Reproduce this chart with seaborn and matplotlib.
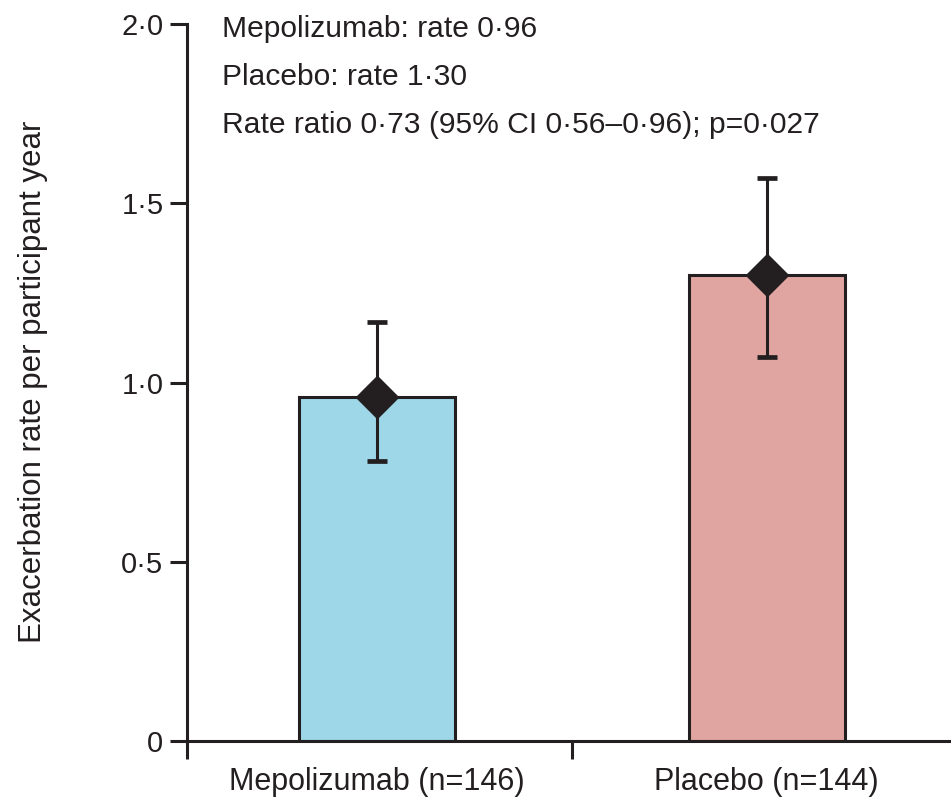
import matplotlib
matplotlib.use("Agg")
import matplotlib.pyplot as plt
import seaborn as sns
import pandas as pd

# Data
groups = ["Mepolizumab (n=146)", "Placebo (n=144)"]
rates = [0.96, 1.30]
ci_lower = [0.78, 1.07]
ci_upper = [1.17, 1.57]
bar_colors = ["#9dd7e8", "#e0a5a1"]
y_ticks = [0, 0.5, 1.0, 1.5, 2.0]
y_tick_labels = ["0", "0·5", "1·0", "1·5", "2·0"]
annotation_lines = [
    "Mepolizumab: rate 0·96",
    "Placebo: rate 1·30",
    "Rate ratio 0·73 (95% CI 0·56\u20130·96); p=0·027",
]

ink = "#231f20"

sns.set_theme(style="ticks")
plt.rcParams["font.family"] = ["Liberation Sans", "DejaVu Sans"]
plt.rcParams["text.color"] = ink
plt.rcParams["axes.labelcolor"] = ink
plt.rcParams["xtick.color"] = ink
plt.rcParams["ytick.color"] = ink

df = pd.DataFrame({"group": groups, "rate": rates})

W, H = 951, 801
fig = plt.figure(figsize=(W / 100, H / 100), dpi=100)
ax = fig.add_axes([187 / W, 60 / H, 764 / W, 717 / H])

sns.barplot(data=df, x="group", y="rate", hue="group", palette=bar_colors,
            saturation=1, width=0.40, edgecolor=ink, linewidth=2.2,
            legend=False, ax=ax, errorbar=None)

xs = list(range(len(groups)))
yerr = [[r - lo for r, lo in zip(rates, ci_lower)],
        [hi - r for r, hi in zip(rates, ci_upper)]]
ax.errorbar(xs, rates, yerr=yerr, fmt="none", ecolor=ink, elinewidth=2.2,
            capsize=7, capthick=3.4, zorder=4)
ax.plot(xs, rates, linestyle="none", marker="D", markersize=21,
        color=ink, zorder=5)

ax.set_xlim(-0.486, 1.473)
ax.set_ylim(0, 2.0)
ax.set_yticks(y_ticks)
ax.set_yticklabels(y_tick_labels)
ax.set_xticks(xs)
ax.set_xticklabels(groups)
ax.set_xticks([-0.486, 0.5], minor=True)
ax.tick_params(axis="x", which="major", length=0, pad=19, labelsize=22)
ax.tick_params(axis="x", which="minor", length=13, width=2.2, direction="out")
ax.tick_params(axis="y", which="major", length=12, width=2.2, pad=5, labelsize=21)

ax.set_xlabel("")
ax.set_ylabel("Exacerbation rate per participant year", fontsize=22.5)
ax.yaxis.set_label_coords((48 - 187) / 764, (741 - 382) / 717)

for side in ["top", "right"]:
    ax.spines[side].set_visible(False)
for side in ["left", "bottom"]:
    ax.spines[side].set_linewidth(2.2)
    ax.spines[side].set_color(ink)

for i, line in enumerate(annotation_lines):
    ax.text(222 / W, 1 - (37 + i * 48) / H, line, transform=fig.transFigure,
            fontsize=21.6, ha="left", va="baseline", color=ink)

fig.savefig("out.png", dpi=100)
